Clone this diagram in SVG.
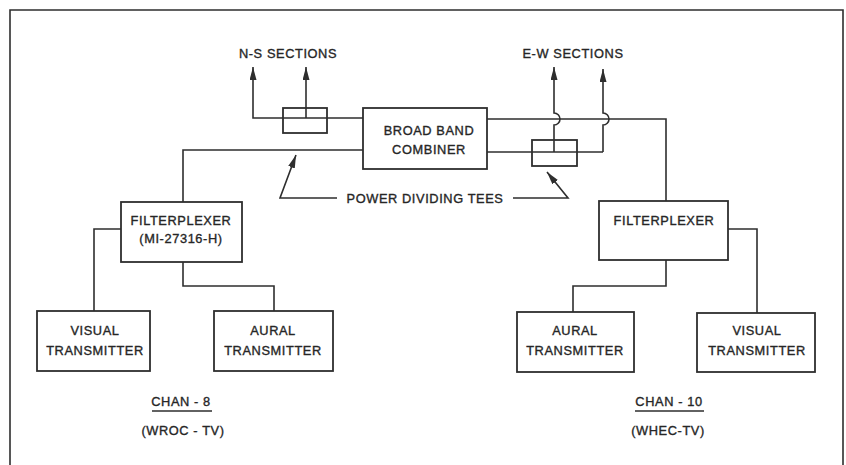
<svg xmlns="http://www.w3.org/2000/svg" width="846" height="465" viewBox="0 0 846 465">
<style>
.ln{fill:none;stroke:#2e2e2e;stroke-width:1.6;stroke-linejoin:miter}
.bx{fill:#fff;stroke:#2e2e2e;stroke-width:1.8}
.t{font-family:"Liberation Sans",Arial,sans-serif;font-size:12.8px;fill:#262626;stroke:#262626;stroke-width:0.35px;text-anchor:middle;letter-spacing:0.6px}
</style>
<defs>
<marker id="ah" markerUnits="userSpaceOnUse" markerWidth="14" markerHeight="8" refX="13" refY="3.5" orient="auto">
<path d="M0,0 L13,3.5 L0,7 z" fill="#2e2e2e"/>
</marker>
</defs>
<rect width="846" height="465" fill="#fff"/>
<path class="ln" d="M10,465 L10,10 L843,10 L843,465"/>
<g id="connectors">
<path class="ln" d="M363,118 L253,118 L253,67" marker-end="url(#ah)"/>
<path class="ln" d="M306,118 L306,67" marker-end="url(#ah)"/>
<path class="ln" d="M363,150 L183,150 L183,202"/>
<path class="ln" d="M487,119 L666,119 L666,201"/>
<path class="ln" d="M487,152 L603,152"/>
<path class="ln" d="M554,152 L554,125 A6,6 0 0 0 554,113 L554,67" marker-end="url(#ah)"/>
<path class="ln" d="M603,152 L603,125 A6,6 0 0 0 603,113 L603,69" marker-end="url(#ah)"/>
<path class="ln" d="M121,229 L94,229 L94,311"/>
<path class="ln" d="M183,262 L183,286 L274,286 L274,311"/>
<path class="ln" d="M666,260 L666,286 L573,286 L573,312"/>
<path class="ln" d="M728,229 L757,229 L757,313"/>
<path class="ln" d="M337,198 L280,198 L296,155" marker-end="url(#ah)"/>
<path class="ln" d="M513,198 L568,198 L547,172" marker-end="url(#ah)"/>
</g>
<g id="tee-ns">
<rect class="bx" x="283" y="108" width="44" height="25" fill="none"/>
<path class="ln" d="M283,118 L327,118 M306,108 L306,118"/>
</g>
<g id="tee-ew">
<rect class="bx" x="532" y="140" width="45" height="26"/>
<path class="ln" d="M532,152 L577,152 M554,140 L554,152"/>
</g>
<g id="combiner">
<rect class="bx" x="363" y="108" width="124" height="61"/>
<text class="t" x="429" y="135">BROAD BAND</text>
<text class="t" x="429" y="154">COMBINER</text>
</g>
<g id="filterplexer-8">
<rect class="bx" x="121" y="202" width="121" height="60"/>
<text class="t" x="181" y="225">FILTERPLEXER</text>
<text class="t" x="181" y="243">(MI-27316-H)</text>
</g>
<g id="filterplexer-10">
<rect class="bx" x="599" y="201" width="129" height="59"/>
<text class="t" x="664" y="225">FILTERPLEXER</text>
</g>
<g id="visual-8">
<rect class="bx" x="37" y="311" width="113" height="60"/>
<text class="t" x="95" y="335">VISUAL</text>
<text class="t" x="95" y="355">TRANSMITTER</text>
</g>
<g id="aural-8">
<rect class="bx" x="214" y="311" width="119" height="60"/>
<text class="t" x="273" y="335">AURAL</text>
<text class="t" x="273" y="355">TRANSMITTER</text>
</g>
<g id="aural-10">
<rect class="bx" x="517" y="312" width="117" height="60"/>
<text class="t" x="575" y="335">AURAL</text>
<text class="t" x="575" y="355">TRANSMITTER</text>
</g>
<g id="visual-10">
<rect class="bx" x="697" y="313" width="118" height="59"/>
<text class="t" x="757" y="335">VISUAL</text>
<text class="t" x="757" y="355">TRANSMITTER</text>
</g>
<g id="labels">
<text class="t" x="288" y="58" letter-spacing="1.2">N-S SECTIONS</text>
<text class="t" x="573" y="58" letter-spacing="1.2">E-W SECTIONS</text>
<text class="t" x="425" y="203" letter-spacing="1.5">POWER DIVIDING TEES</text>
<text class="t" x="181" y="406">CHAN - 8</text>
<path class="ln" d="M152,411 L212,411" stroke-width="1.3"/>
<text class="t" x="183" y="435">(WROC - TV)</text>
<text class="t" x="669" y="406">CHAN - 10</text>
<path class="ln" d="M635,411 L704,411" stroke-width="1.3"/>
<text class="t" x="668" y="435">(WHEC-TV)</text>
</g>
</svg>
